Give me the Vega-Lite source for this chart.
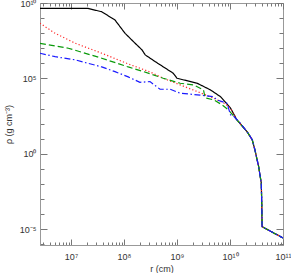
{
  "$schema": "https://vega.github.io/schema/vega-lite/v6.json",
  "width": 243,
  "height": 242,
  "autosize": "none",
  "padding": {"left": 40, "top": 3, "right": 8, "bottom": 28},
  "background": "white",
  "config": {
    "view": {"stroke": "#999", "strokeWidth": 1},
    "axis": {
      "labelFont": "Liberation Sans", "titleFont": "Liberation Sans",
      "labelFontSize": 9, "titleFontSize": 9, "titleFontWeight": "normal",
      "labelColor": "#333", "titleColor": "#333",
      "domainColor": "#999", "tickColor": "#777", "tickWidth": 1, "grid": false,
      "labelOverlap": false, "labelFlush": false, "labelBound": false
    }
  },
  "datasets": {
    "curves": [
      {"s": "a", "lr": 6.414, "lp": 9.65},
      {"s": "a", "lr": 7.32, "lp": 9.64},
      {"s": "a", "lr": 7.58, "lp": 9.42},
      {"s": "a", "lr": 7.83, "lp": 8.87},
      {"s": "a", "lr": 8.02, "lp": 7.99},
      {"s": "a", "lr": 8.21, "lp": 7.33},
      {"s": "a", "lr": 8.34, "lp": 6.89},
      {"s": "a", "lr": 8.40, "lp": 6.56},
      {"s": "a", "lr": 8.59, "lp": 6.11},
      {"s": "a", "lr": 8.93, "lp": 5.34},
      {"s": "a", "lr": 9.00, "lp": 5.01},
      {"s": "a", "lr": 9.38, "lp": 4.68},
      {"s": "a", "lr": 9.63, "lp": 4.24},
      {"s": "a", "lr": 9.82, "lp": 3.79},
      {"s": "a", "lr": 10.01, "lp": 3.03},
      {"s": "a", "lr": 10.13, "lp": 2.25},
      {"s": "a", "lr": 10.32, "lp": 1.48},
      {"s": "a", "lr": 10.42, "lp": 0.93},
      {"s": "a", "lr": 10.47, "lp": 0.26},
      {"s": "a", "lr": 10.54, "lp": -0.84},
      {"s": "a", "lr": 10.59, "lp": -1.94},
      {"s": "a", "lr": 10.60, "lp": -3.38},
      {"s": "a", "lr": 10.605, "lp": -4.83},
      {"s": "a", "lr": 11.0, "lp": -5.58},

      {"s": "b", "lr": 6.414, "lp": 8.66},
      {"s": "b", "lr": 6.70, "lp": 7.99},
      {"s": "b", "lr": 7.08, "lp": 7.33},
      {"s": "b", "lr": 7.58, "lp": 6.67},
      {"s": "b", "lr": 8.08, "lp": 5.96},
      {"s": "b", "lr": 8.49, "lp": 5.43},
      {"s": "b", "lr": 8.74, "lp": 5.01},
      {"s": "b", "lr": 9.06, "lp": 4.57},
      {"s": "b", "lr": 9.38, "lp": 4.13},
      {"s": "b", "lr": 9.69, "lp": 3.69},
      {"s": "b", "lr": 9.91, "lp": 3.31},
      {"s": "b", "lr": 10.01, "lp": 3.03},
      {"s": "b", "lr": 10.13, "lp": 2.25},
      {"s": "b", "lr": 10.32, "lp": 1.48},
      {"s": "b", "lr": 10.42, "lp": 0.93},
      {"s": "b", "lr": 10.47, "lp": 0.26},
      {"s": "b", "lr": 10.54, "lp": -0.84},
      {"s": "b", "lr": 10.59, "lp": -1.94},
      {"s": "b", "lr": 10.60, "lp": -3.38},
      {"s": "b", "lr": 10.605, "lp": -4.83},
      {"s": "b", "lr": 11.0, "lp": -5.58},

      {"s": "c", "lr": 6.414, "lp": 7.33},
      {"s": "c", "lr": 6.95, "lp": 7.00},
      {"s": "c", "lr": 7.58, "lp": 6.34},
      {"s": "c", "lr": 8.08, "lp": 5.76},
      {"s": "c", "lr": 8.37, "lp": 5.45},
      {"s": "c", "lr": 8.74, "lp": 5.01},
      {"s": "c", "lr": 9.06, "lp": 4.68},
      {"s": "c", "lr": 9.31, "lp": 4.57},
      {"s": "c", "lr": 9.50, "lp": 4.24},
      {"s": "c", "lr": 9.53, "lp": 3.71},
      {"s": "c", "lr": 9.69, "lp": 3.58},
      {"s": "c", "lr": 9.85, "lp": 3.25},
      {"s": "c", "lr": 9.97, "lp": 2.91},
      {"s": "c", "lr": 10.13, "lp": 2.25},
      {"s": "c", "lr": 10.32, "lp": 1.48},
      {"s": "c", "lr": 10.42, "lp": 0.93},
      {"s": "c", "lr": 10.47, "lp": 0.26},
      {"s": "c", "lr": 10.54, "lp": -0.84},
      {"s": "c", "lr": 10.59, "lp": -1.94},
      {"s": "c", "lr": 10.60, "lp": -3.38},
      {"s": "c", "lr": 10.605, "lp": -4.83},
      {"s": "c", "lr": 11.0, "lp": -5.58},

      {"s": "d", "lr": 6.414, "lp": 6.67},
      {"s": "d", "lr": 6.70, "lp": 6.44},
      {"s": "d", "lr": 7.08, "lp": 6.23},
      {"s": "d", "lr": 7.58, "lp": 5.76},
      {"s": "d", "lr": 7.83, "lp": 5.45},
      {"s": "d", "lr": 8.08, "lp": 5.10},
      {"s": "d", "lr": 8.30, "lp": 4.74},
      {"s": "d", "lr": 8.49, "lp": 4.79},
      {"s": "d", "lr": 8.68, "lp": 4.28},
      {"s": "d", "lr": 8.87, "lp": 4.28},
      {"s": "d", "lr": 9.06, "lp": 4.02},
      {"s": "d", "lr": 9.38, "lp": 3.91},
      {"s": "d", "lr": 9.69, "lp": 3.79},
      {"s": "d", "lr": 9.75, "lp": 3.58},
      {"s": "d", "lr": 9.94, "lp": 3.36},
      {"s": "d", "lr": 9.97, "lp": 3.05},
      {"s": "d", "lr": 10.01, "lp": 2.58},
      {"s": "d", "lr": 10.06, "lp": 2.52},
      {"s": "d", "lr": 10.19, "lp": 2.05},
      {"s": "d", "lr": 10.32, "lp": 1.48},
      {"s": "d", "lr": 10.42, "lp": 0.93},
      {"s": "d", "lr": 10.47, "lp": 0.26},
      {"s": "d", "lr": 10.54, "lp": -0.84},
      {"s": "d", "lr": 10.59, "lp": -1.94},
      {"s": "d", "lr": 10.60, "lp": -3.38},
      {"s": "d", "lr": 10.605, "lp": -4.83},
      {"s": "d", "lr": 11.0, "lp": -5.58}
    ]
  },
  "data": {"name": "curves"},
  "transform": [
    {"calculate": "pow(10, datum.lr)", "as": "r"},
    {"calculate": "pow(10, datum.lp)", "as": "rho"}
  ],
  "layer": [
    {
      "mark": {"type": "line", "strokeWidth": 1.2, "clip": true},
      "encoding": {
        "x": {
          "field": "r", "type": "quantitative",
          "scale": {"type": "log", "domain": [2.6e6, 1e11], "nice": false, "zero": false},
          "axis": {
            "orient": "bottom", "title": "r (cm)", "titlePadding": 0,
            "values": [3e6,4e6,5e6,6e6,7e6,8e6,9e6,1e7,2e7,3e7,4e7,5e7,6e7,7e7,8e7,9e7,1e8,2e8,3e8,4e8,5e8,6e8,7e8,8e8,9e8,1e9,2e9,3e9,4e9,5e9,6e9,7e9,8e9,9e9,1e10,2e10,3e10,4e10,5e10,6e10,7e10,8e10,9e10,1e11],
            "tickSize": {"condition": {"test": "abs(log(datum.value)/LN10 - round(log(datum.value)/LN10)) < 0.001", "value": -6}, "value": -3},
            "labelPadding": 13,
            "labelExpr": "datum.value==1e7?'10⁷':datum.value==1e8?'10⁸':datum.value==1e9?'10⁹':datum.value==1e10?'10¹⁰':datum.value==1e11?'10¹¹':''"
          }
        },
        "y": {
          "field": "rho", "type": "quantitative",
          "scale": {"type": "log", "domain": [9e-7, 1e10], "nice": false, "zero": false},
          "axis": {
            "orient": "left", "title": "ρ (g cm⁻³)", "titlePadding": 6,
            "values": [1e-6,1e-5,1e-4,1e-3,1e-2,1e-1,1,10,100,1e3,1e4,1e5,1e6,1e7,1e8,1e9,1e10],
            "tickSize": {"condition": {"test": "datum.value==1e-5||datum.value==1||datum.value==1e5||datum.value==1e10", "value": -7}, "value": -4},
            "labelPadding": 11,
            "labelExpr": "datum.value==1e-5?'10⁻⁵':datum.value==1?'10⁰':datum.value==1e5?'10⁵':datum.value==1e10?'10¹⁰':''"
          }
        },
        "color": {
          "field": "s", "type": "nominal",
          "scale": {"domain": ["a","b","c","d"], "range": ["#000000","#ff2a2a","#0a9a0a","#1a1aff"]},
          "legend": null
        },
        "strokeDash": {
          "field": "s", "type": "nominal",
          "scale": {"domain": ["a","b","c","d"], "range": [[1,0],[1.2,2.2],[6,3],[6,2.5,1.5,2.5]]},
          "legend": null
        }
      }
    },
    {
      "mark": {"type": "point", "opacity": 0},
      "encoding": {
        "x": {
          "field": "r", "type": "quantitative",
          "axis": {
            "orient": "top", "title": null, "labels": false, "domain": false,
            "values": [3e6,4e6,5e6,6e6,7e6,8e6,9e6,1e7,2e7,3e7,4e7,5e7,6e7,7e7,8e7,9e7,1e8,2e8,3e8,4e8,5e8,6e8,7e8,8e8,9e8,1e9,2e9,3e9,4e9,5e9,6e9,7e9,8e9,9e9,1e10,2e10,3e10,4e10,5e10,6e10,7e10,8e10,9e10,1e11],
            "tickSize": {"condition": {"test": "abs(log(datum.value)/LN10 - round(log(datum.value)/LN10)) < 0.001", "value": -6}, "value": -3}
          }
        },
        "y": {
          "field": "rho", "type": "quantitative",
          "axis": {
            "orient": "right", "title": null, "labels": false, "domain": false,
            "values": [1e-6,1e-5,1e-4,1e-3,1e-2,1e-1,1,10,100,1e3,1e4,1e5,1e6,1e7,1e8,1e9,1e10],
            "tickSize": {"condition": {"test": "datum.value==1e-5||datum.value==1||datum.value==1e5||datum.value==1e10", "value": -7}, "value": -4}
          }
        }
      }
    }
  ]
}
